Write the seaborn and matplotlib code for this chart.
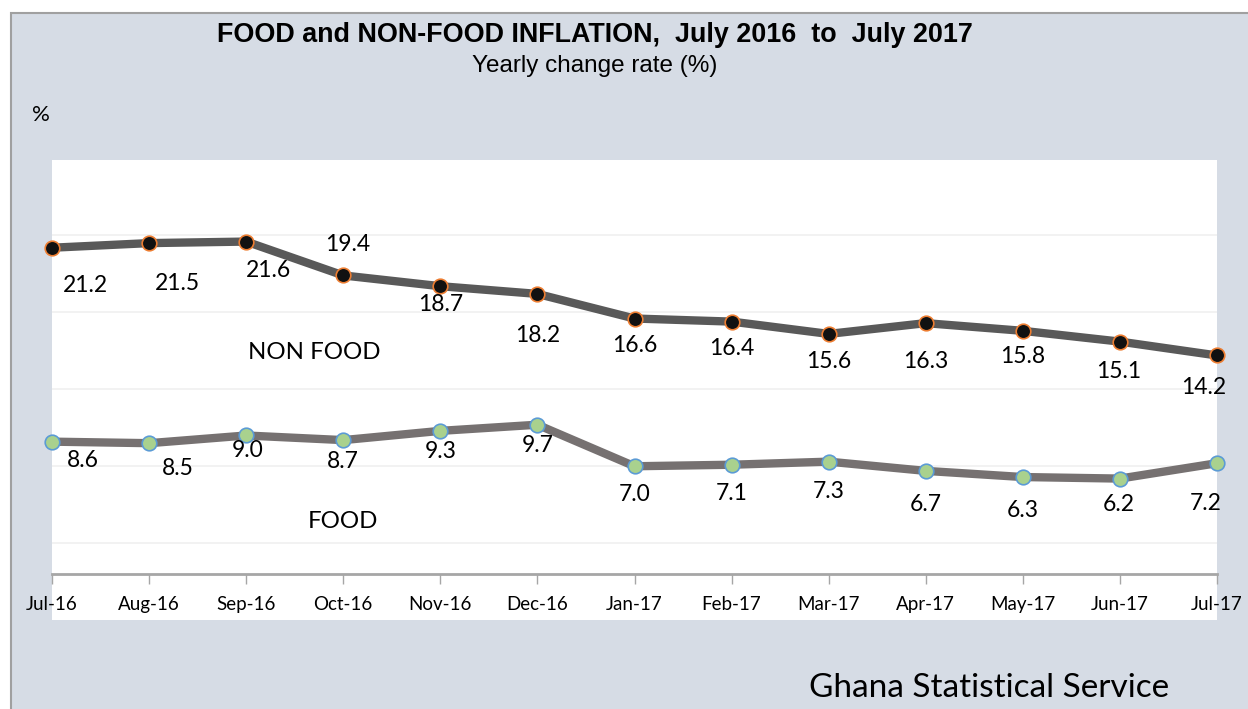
import matplotlib
matplotlib.use("Agg")
import matplotlib.pyplot as plt
import seaborn as sns
import pandas as pd
from matplotlib.patches import Rectangle

# data
months = ["Jul-16", "Aug-16", "Sep-16", "Oct-16", "Nov-16", "Dec-16", "Jan-17",
          "Feb-17", "Mar-17", "Apr-17", "May-17", "Jun-17", "Jul-17"]
non_food = [21.2, 21.5, 21.6, 19.4, 18.7, 18.2, 16.6, 16.4, 15.6, 16.3, 15.8, 15.1, 14.2]
food = [8.6, 8.5, 9.0, 8.7, 9.3, 9.7, 7.0, 7.1, 7.3, 6.7, 6.3, 6.2, 7.2]

# label offsets in pixels (dx, dy) relative to each point
nf_off = [(33, -38), (28, -40), (22, -29), (4, 31), (0, -18), (0, -42), (0, -27),
          (0, -27), (0, -28), (0, -38), (0, -26), (-1, -30), (-13, -32)]
f_off = [(31, -19), (29, -25), (1, -15), (0, -21), (0, -21), (0, -21), (0, -28),
         (0, -29), (0, -30), (0, -34), (0, -33), (-1, -26), (-11, -40)]

W, H = 1248, 709
BG = "#D6DCE5"

df = pd.DataFrame({"month": list(range(len(months))) * 2,
                   "value": non_food + food,
                   "series": ["NON FOOD"] * len(months) + ["FOOD"] * len(months)})

sns.set_style("white")
plt.rcParams["font.family"] = ["Lato", "DejaVu Sans"]
plt.rcParams["text.color"] = "black"
plt.rcParams["xtick.labelcolor"] = "black"

fig = plt.figure(figsize=(W / 100, H / 100), dpi=100)
fig.patch.set_facecolor("white")

def fx(px):
    return px / W

def fy(py):
    return 1 - py / H

# outer chart area
fig.patches.append(Rectangle((fx(11), -0.1), 1.1, fy(13) + 0.1, transform=fig.transFigure,
                             facecolor=BG, edgecolor="#A0A0A0", linewidth=1.5, zorder=-2))
# white plot area (extends under tick labels)
fig.patches.append(Rectangle((fx(52), fy(620)), fx(1217 - 52), (620 - 160) / H,
                             transform=fig.transFigure, facecolor="white",
                             edgecolor="none", zorder=-1))

ax = fig.add_axes([fx(52), fy(574), fx(1217 - 52), (574 - 160) / H])
ax.set_facecolor("none")
ax.set_zorder(1)

sns.lineplot(data=df[df.series == "NON FOOD"], x="month", y="value", ax=ax,
             color="#595959", linewidth=6, marker="o", markersize=10.5,
             markerfacecolor="#111111", markeredgecolor="#ED7D31", markeredgewidth=1.2,
             clip_on=False, zorder=3)
sns.lineplot(data=df[df.series == "FOOD"], x="month", y="value", ax=ax,
             color="#767171", linewidth=6, marker="o", markersize=10.5,
             markerfacecolor="#A9D18E", markeredgecolor="#5B9BD5", markeredgewidth=1.2,
             clip_on=False, zorder=3)

for i, v in enumerate(non_food):
    ax.annotate(f"{v:.1f}", (i, v), xytext=nf_off[i], textcoords="offset pixels",
                ha="center", va="center", fontsize=16.5)
for i, v in enumerate(food):
    ax.annotate(f"{v:.1f}", (i, v), xytext=f_off[i], textcoords="offset pixels",
                ha="center", va="center", fontsize=16.5)

ax.set_xlim(0, len(months) - 1)
ax.set_ylim(0, 26.9)
ax.set_yticks([2, 7, 12, 17, 22])
ax.yaxis.grid(True, color="#F0F0F0", linewidth=1.2)
ax.set_axisbelow(True)
ax.tick_params(axis="y", left=False, labelleft=False)
ax.set_xticks(range(len(months)))
ax.set_xticklabels(months, fontsize=13.5)
ax.tick_params(axis="x", bottom=True, direction="out", length=7, width=1,
               color="#A6A6A6", pad=9)
for s in ["top", "right", "left"]:
    ax.spines[s].set_visible(False)
ax.spines["bottom"].set_color("#A6A6A6")
ax.spines["bottom"].set_linewidth(2)
ax.set_xlabel("")
ax.set_ylabel("")
if ax.get_legend():
    ax.get_legend().remove()

ax.text(2.7, 14.4, "NON FOOD", ha="center", va="center", fontsize=17.3)
ax.text(3.0, 3.4, "FOOD", ha="center", va="center", fontsize=17.3)

fig.text(fx(595), fy(35), "FOOD and NON-FOOD INFLATION,  July 2016  to  July 2017",
         ha="center", va="center", fontsize=19.4, fontweight="bold",
         family=["Liberation Sans"])
fig.text(fx(595), fy(66), "Yearly change rate (%)", ha="center", va="center",
         fontsize=17.5, family=["Liberation Sans"])
fig.text(fx(32), fy(115), "%", ha="left", va="center", fontsize=16)
fig.text(fx(989), fy(688), "Ghana Statistical Service", ha="center", va="center",
         fontsize=24)

fig.savefig("out.png", dpi=100, facecolor=fig.get_facecolor())
